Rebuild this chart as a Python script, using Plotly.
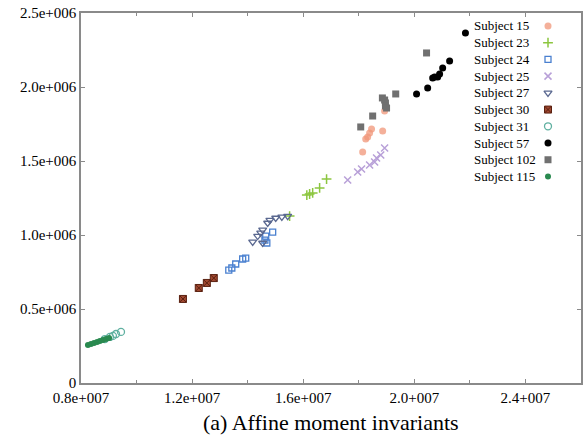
import plotly.graph_objects as go

# ---------------- data ----------------
subjects = ["Subject 15", "Subject 23", "Subject 24", "Subject 25", "Subject 27",
            "Subject 30", "Subject 31", "Subject 57", "Subject 102", "Subject 115"]

s15_x = [1.814e7, 1.825e7, 1.832e7, 1.839e7, 1.846e7, 1.886e7, 1.893e7]
s15_y = [1.561e6, 1.649e6, 1.662e6, 1.689e6, 1.716e6, 1.703e6, 1.838e6]

s23_x = [1.551e7, 1.613e7, 1.623e7, 1.634e7, 1.659e7, 1.684e7]
s23_y = [1.128e6, 1.270e6, 1.277e6, 1.284e6, 1.318e6, 1.378e6]

s24_x = [1.332e7, 1.343e7, 1.357e7, 1.382e7, 1.393e7, 1.462e7, 1.469e7, 1.490e7, 1.465e7]
s24_y = [0.763e6, 0.777e6, 0.804e6, 0.838e6, 0.844e6, 0.966e6, 0.946e6, 1.020e6, 0.993e6]

s25_x = [1.760e7, 1.796e7, 1.810e7, 1.839e7, 1.857e7, 1.864e7, 1.879e7, 1.893e7]
s25_y = [1.372e6, 1.426e6, 1.446e6, 1.473e6, 1.493e6, 1.520e6, 1.541e6, 1.588e6]

s27_x = [1.418e7, 1.436e7, 1.447e7, 1.454e7, 1.472e7, 1.480e7, 1.501e7, 1.523e7, 1.544e7, 1.454e7]
s27_y = [0.953e6, 0.993e6, 1.014e6, 1.034e6, 1.081e6, 1.101e6, 1.115e6, 1.122e6, 1.128e6, 0.946e6]

s30_x = [1.167e7, 1.224e7, 1.253e7, 1.278e7]
s30_y = [0.568e6, 0.642e6, 0.676e6, 0.709e6]

s31_x = [0.886e7, 0.904e7, 0.915e7, 0.926e7, 0.944e7]
s31_y = [0.297e6, 0.311e6, 0.318e6, 0.331e6, 0.345e6]

s57_x = [2.008e7, 2.048e7, 2.066e7, 2.073e7, 2.084e7, 2.091e7, 2.102e7, 2.127e7, 2.184e7]
s57_y = [1.953e6, 1.993e6, 2.061e6, 2.068e6, 2.068e6, 2.088e6, 2.128e6, 2.176e6, 2.365e6]

s102_x = [1.807e7, 1.850e7, 1.885e7, 1.893e7, 1.896e7, 1.896e7, 1.900e7, 1.933e7, 2.044e7]
s102_y = [1.730e6, 1.804e6, 1.926e6, 1.912e6, 1.892e6, 1.872e6, 1.858e6, 1.953e6, 2.230e6]

s115_x = [0.825e7, 0.836e7, 0.847e7, 0.858e7, 0.868e7, 0.879e7, 0.890e7, 0.901e7]
s115_y = [0.257e6, 0.264e6, 0.270e6, 0.277e6, 0.284e6, 0.291e6, 0.297e6, 0.304e6]

x_tickvals = [0.8e7, 1.2e7, 1.6e7, 2.0e7, 2.4e7]
x_ticktext = ["0.8e+007", "1.2e+007", "1.6e+007", "2.0+007", "2.4+007"]
y_tickvals = [0, 0.5e6, 1.0e6, 1.5e6, 2.0e6, 2.5e6]
y_ticktext = ["0", "0.5e+006", "1.0e+006", "1.5e+006", "2.0e+006", "2.5e+006"]
caption = "(a) Affine moment invariants"

series = [(s15_x, s15_y), (s23_x, s23_y), (s24_x, s24_y), (s25_x, s25_y), (s27_x, s27_y),
          (s30_x, s30_y), (s31_x, s31_y), (s57_x, s57_y), (s102_x, s102_y), (s115_x, s115_y)]

# ---------------- styles ----------------
styles = [
    dict(symbol="circle", color="rgba(240,150,120,0.75)", size=7, line=dict(width=0)),
    dict(symbol="cross-thin", color="rgba(0,0,0,0)", size=7, line=dict(width=1.5, color="#8cc63f")),
    dict(symbol="square-open", color="#4a80d0", size=6, line=dict(width=1.3)),
    dict(symbol="x-thin", color="rgba(0,0,0,0)", size=7, line=dict(width=1.5, color="#b8a0d8")),
    dict(symbol="triangle-down-open", color="#5a6890", size=7, line=dict(width=1.3)),
    dict(symbol="square-x", color="#a04830", size=7, line=dict(width=1, color="#5a2010")),
    dict(symbol="circle-open", color="#5fb0a0", size=7, line=dict(width=1.3)),
    dict(symbol="circle", color="#000000", size=7, line=dict(width=0)),
    dict(symbol="square", color="#707070", size=7, line=dict(width=0)),
    dict(symbol="circle", color="#2a8a50", size=6, line=dict(width=0)),
]

FONT = "Liberation Serif, Times New Roman, Times, serif"
fig = go.Figure()

for name, (xs, ys), st in zip(subjects, series, styles):
    fig.add_trace(go.Scatter(x=xs, y=ys, mode="markers", name=name, marker=st,
                             showlegend=False, xaxis="x", yaxis="y"))

# custom legend: text left, marker right (as in the reference)
row_top, row_step = 0.965, 0.0452
legend_text_x, legend_marker_x = 0.782, 0.934
for i, (name, st) in enumerate(zip(subjects, styles)):
    yy = row_top - i * row_step
    fig.add_annotation(x=legend_text_x, y=yy, xref="paper", yref="paper", text=name,
                       showarrow=False, xanchor="left", yanchor="middle",
                       font=dict(family=FONT, size=13, color="#000"))
    fig.add_trace(go.Scatter(x=[legend_marker_x], y=[yy], mode="markers", marker=st,
                             showlegend=False, xaxis="x2", yaxis="y2", hoverinfo="skip"))

fig.add_annotation(x=0.5, y=-0.108, xref="paper", yref="paper", text=caption,
                   showarrow=False, xanchor="center", yanchor="middle",
                   font=dict(family=FONT, size=22, color="#000"))

axis_line = dict(showline=True, linecolor="#8a8a8a", linewidth=1.5, mirror="ticks",
                 showgrid=False, zeroline=False, ticks="inside", tickcolor="#8a8a8a",
                 ticklen=4, automargin=False,
                 tickfont=dict(family=FONT, size=15, color="#000"))

fig.update_layout(
    width=584, height=438,
    margin=dict(l=81, r=3, t=13, b=55),
    paper_bgcolor="white", plot_bgcolor="white",
    showlegend=False,
    font=dict(family=FONT),
    xaxis=dict(range=[0.8e7, 2.6e7], tickmode="array", tickvals=x_tickvals, ticktext=x_ticktext,
               minor=dict(dtick=2e6, tick0=0, ticks="inside", ticklen=3, tickcolor="#8a8a8a"),
               **axis_line),
    yaxis=dict(range=[0, 2.5e6], tickmode="array", tickvals=y_tickvals, ticktext=y_ticktext,
               **axis_line),
    xaxis2=dict(range=[0, 1], overlaying="x", visible=False, domain=[0, 1]),
    yaxis2=dict(range=[0, 1], overlaying="y", visible=False, domain=[0, 1]),
)

fig.write_html("out.html", config={"displayModeBar": False},
               post_script="document.body.style.margin='0';document.body.style.padding='0';")
